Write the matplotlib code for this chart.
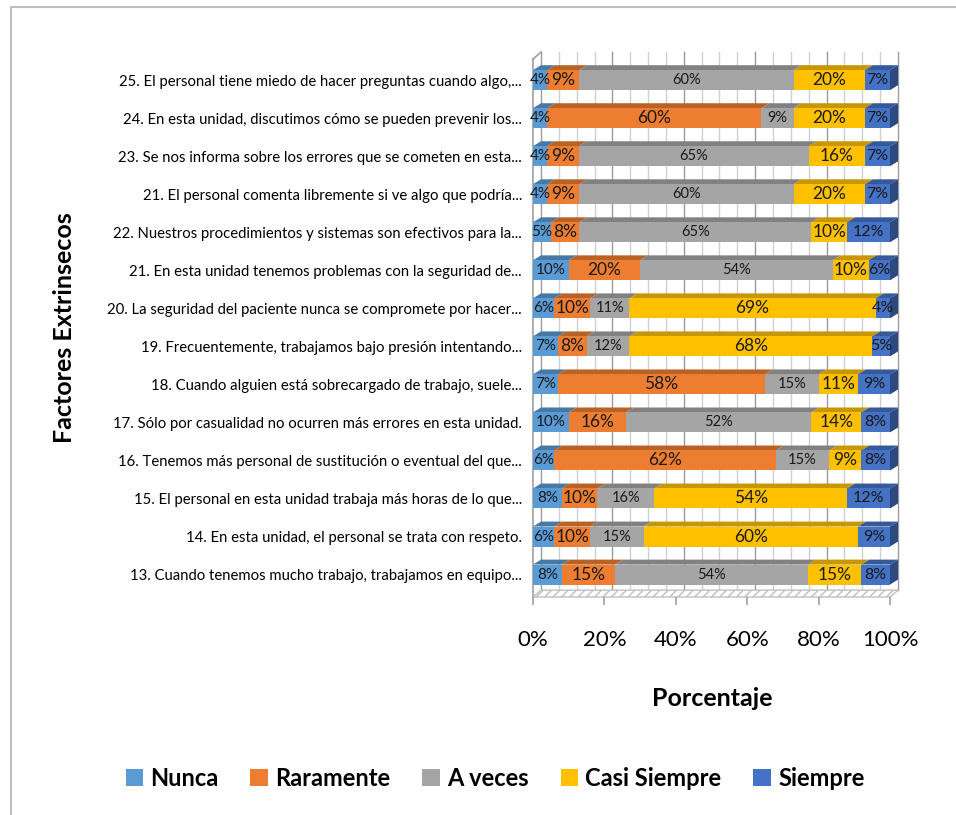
import matplotlib
matplotlib.use('Agg')
import matplotlib.pyplot as plt
from matplotlib.patches import Polygon, Rectangle, Patch
import numpy as np

plt.rcParams['font.family'] = ['Lato', 'DejaVu Sans']

# Datos (de arriba hacia abajo, como en la imagen)
preguntas = [
    '25. El personal tiene miedo de hacer preguntas cuando algo,...',
    '24. En esta unidad, discutimos cómo se pueden prevenir los...',
    '23. Se nos informa sobre los errores que se cometen en esta...',
    '21. El personal comenta libremente si ve algo que podría...',
    '22. Nuestros procedimientos y sistemas son efectivos para la...',
    '21. En esta unidad tenemos problemas con la seguridad de...',
    '20. La seguridad del paciente nunca se compromete por hacer...',
    '19. Frecuentemente, trabajamos bajo presión intentando...',
    '18. Cuando alguien está sobrecargado de trabajo, suele...',
    '17. Sólo por casualidad no ocurren más errores en esta unidad.',
    '16. Tenemos más personal de sustitución o eventual del que...',
    '15. El personal en esta unidad trabaja más horas de lo que...',
    '14. En esta unidad, el personal se trata con respeto.',
    '13. Cuando tenemos mucho trabajo, trabajamos en equipo...',
]
nunca        = [4, 4, 4, 4, 5, 10, 6, 7, 7, 10, 6, 8, 6, 8]
raramente    = [9, 60, 9, 9, 8, 20, 10, 8, 58, 16, 62, 10, 10, 15]
a_veces      = [60, 9, 65, 60, 65, 54, 11, 12, 15, 52, 15, 16, 15, 54]
casi_siempre = [20, 20, 16, 20, 10, 10, 69, 68, 11, 14, 9, 54, 60, 15]
siempre      = [7, 7, 7, 7, 12, 6, 4, 5, 9, 8, 8, 12, 9, 8]

series = ['Nunca', 'Raramente', 'A veces', 'Casi Siempre', 'Siempre']
valores = [nunca, raramente, a_veces, casi_siempre, siempre]
colores = ['#5B9BD5', '#ED7D31', '#A5A5A5', '#FFC000', '#4472C4']
tam_etiqueta = [11, 12.5, 10.5, 12.5, 11.5]


def oscurecer(color, f=0.78):
    c = np.array(matplotlib.colors.to_rgb(color))
    return tuple(c * f)


fig = plt.figure(figsize=(9.56, 8.15), dpi=100)

# marco exterior del gráfico
fig.patches.append(Rectangle((11 / 956, -0.1), 1.2, 1 - 7 / 815 + 0.1,
                             transform=fig.transFigure, fill=False,
                             edgecolor='#bfbfbf', linewidth=1.5))

ax = fig.add_axes([533 / 956, 1 - 597 / 815, 357 / 956, 545 / 815])
ax.set_xlim(0, 100)
ax.set_ylim(-0.59, 13.74)

n = len(preguntas)
y = np.arange(n)[::-1]
datos = np.array(valores, dtype=float)
datos = datos / datos.sum(axis=0) * 100

alto = 0.526
dx, dz = 2.24, 0.13

# pared de fondo: líneas de cuadrícula
for xv in range(0, 101, 5):
    col = '#9a9a9a' if xv % 20 == 0 else '#cfcfcf'
    ax.plot([xv + dx, xv + dx], [-0.41, 13.74], color=col, lw=1, zorder=0,
            clip_on=False)
ax.plot([0, 0], [-0.59, 13.55], color='#a0a0a0', lw=1.2, zorder=0, clip_on=False)
ax.plot([0, dx], [13.55, 13.74], color='#a0a0a0', lw=1.2, zorder=0, clip_on=False)

# piso rayado
piso = Polygon([(0, -0.59), (100, -0.59), (100 + dx, -0.41), (dx, -0.41)],
               closed=True, facecolor='white', edgecolor='#bfbfbf',
               hatch='////', lw=1, zorder=1, clip_on=False)
ax.add_patch(piso)

# barras apiladas al 100% con efecto 3D
izq = np.zeros(n)
for k, nombre in enumerate(series):
    w = datos[k]
    ax.barh(y, w, left=izq, height=alto, color=colores[k], zorder=3)
    for yi, l, wi, v in zip(y, izq, w, valores[k]):
        top = yi + alto / 2
        ax.add_patch(Polygon([(l, top), (l + wi, top), (l + wi + dx, top + dz),
                              (l + dx, top + dz)], closed=True,
                             facecolor=oscurecer(colores[k]), lw=0, zorder=2,
                             clip_on=False))
        ax.text(l + wi / 2, yi, f'{v}%', ha='center', va='center',
                fontsize=tam_etiqueta[k], color='#1a1a1a', zorder=5)
    izq = izq + w

# cara lateral derecha
for yi in y:
    ax.add_patch(Polygon([(100, yi - alto / 2), (100 + dx, yi - alto / 2 + dz),
                          (100 + dx, yi + alto / 2 + dz), (100, yi + alto / 2)],
                         closed=True, facecolor=oscurecer(colores[-1], 0.65),
                         lw=0, zorder=2, clip_on=False))

for s in ax.spines.values():
    s.set_visible(False)

ax.set_yticks(y)
ax.set_yticklabels(preguntas, fontsize=10.7)
ax.tick_params(axis='y', length=0, pad=8)
ax.set_xticks(range(0, 101, 20))
ax.set_xticklabels([f'{t}%' for t in range(0, 101, 20)], fontsize=16)
ax.tick_params(axis='x', length=6, color='#a0a0a0', width=1.2, pad=18)

fig.text(712 / 956, 1 - 698 / 815, 'Porcentaje', ha='center', va='center',
         fontsize=18, fontweight='bold')
fig.text(65 / 956, 1 - 328 / 815, 'Factores Extrinsecos', ha='center',
         va='center', rotation=90, fontsize=18, fontweight='bold')

manijas = [Patch(facecolor=c) for c in colores]
fig.legend(manijas, series, loc='center', ncol=5,
           bbox_to_anchor=(495 / 956, 1 - 778 / 815), frameon=False,
           prop={'size': 17, 'weight': 'bold'}, handlelength=0.75,
           handleheight=0.75, handletextpad=0.3, columnspacing=1.35)

fig.savefig('out.png', dpi=100)
